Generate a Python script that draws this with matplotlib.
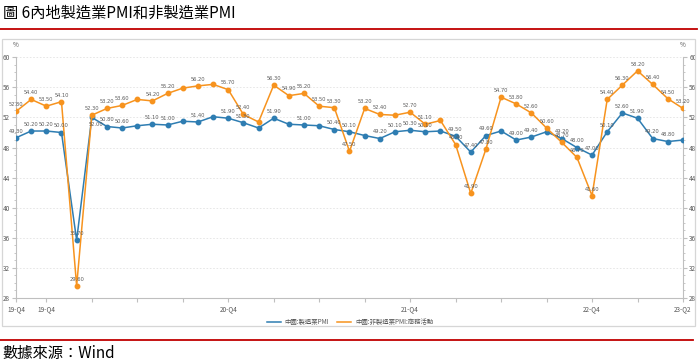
import matplotlib
matplotlib.use("Agg")
import matplotlib.pyplot as plt
from matplotlib.lines import Line2D
from matplotlib.patches import Rectangle
from matplotlib.ticker import MultipleLocator, FixedLocator

plt.rcParams['font.family'] = ['Noto Sans CJK TC', 'DejaVu Sans']

# Monthly data, 2019-10 .. 2023-06
months = ['2019-10', '2019-11', '2019-12', '2020-01', '2020-02', '2020-03', '2020-04', '2020-05',
          '2020-06', '2020-07', '2020-08', '2020-09', '2020-10', '2020-11', '2020-12',
          '2021-01', '2021-02', '2021-03', '2021-04', '2021-05', '2021-06', '2021-07', '2021-08',
          '2021-09', '2021-10', '2021-11', '2021-12', '2022-01', '2022-02', '2022-03', '2022-04',
          '2022-05', '2022-06', '2022-07', '2022-08', '2022-09', '2022-10', '2022-11', '2022-12',
          '2023-01', '2023-02', '2023-03', '2023-04', '2023-05', '2023-06']
mfg_pmi = [49.3, 50.2, 50.2, 50.0, 35.7, 52.0, 50.8, 50.6, 50.9, 51.1, 51.0, 51.5, 51.4, 52.1, 51.9,
           51.3, 50.6, 51.9, 51.1, 51.0, 50.9, 50.4, 50.1, 49.6, 49.2, 50.1, 50.3, 50.1, 50.2, 49.5,
           47.4, 49.6, 50.2, 49.0, 49.4, 50.1, 49.2, 48.0, 47.0, 50.1, 52.6, 51.9, 49.2, 48.8, 49.0]
nonmfg_pmi = [52.8, 54.4, 53.5, 54.1, 29.6, 52.3, 53.2, 53.6, 54.4, 54.2, 55.2, 55.9, 56.2, 56.4, 55.7,
              52.4, 51.4, 56.3, 54.9, 55.2, 53.5, 53.3, 47.5, 53.2, 52.4, 52.3, 52.7, 51.1, 51.6, 48.4,
              41.9, 47.8, 54.7, 53.8, 52.6, 50.6, 48.7, 46.7, 41.6, 54.4, 56.3, 58.2, 56.4, 54.5, 53.2]
# indices whose value label is shown in the reference
mfg_labelled = [0, 1, 2, 3, 4, 5, 6, 7, 9, 10, 12, 14, 15, 17, 19, 21, 22, 24, 25, 26, 27, 29, 30,
                31, 33, 34, 36, 37, 38, 39, 40, 41, 42, 43]
nonmfg_labelled = [0, 1, 2, 3, 4, 5, 6, 7, 9, 10, 12, 14, 15, 17, 18, 19, 20, 21, 22, 23, 24, 26, 27,
                   29, 30, 31, 32, 33, 34, 35, 36, 37, 38, 39, 40, 41, 42, 43, 44]
tick_positions = [0] + list(range(2, len(months), 3))
tick_label_map = {0: '19-Q4', 2: '19-Q4', 14: '20-Q4', 26: '21-Q4', 38: '22-Q4', 44: '23-Q2'}
series_names = ['中國:製造業PMI', '中國:非製造業PMI:商務活動']
title = '圖 6內地製造業PMI和非製造業PMI'
source = '數據來源：Wind'

W, H = 699, 364
fig = plt.figure(figsize=(W / 100, H / 100), dpi=100)

def fx(px):
    return px / W

def fy(py):
    return 1 - py / H

# title, red rules, source
fig.text(fx(3), fy(13), title, fontsize=11, va='center', ha='left', color='black')
fig.add_artist(Line2D([fx(0), fx(697)], [fy(28.5), fy(28.5)], color='#c00000', lw=1.3))
fig.add_artist(Line2D([fx(0), fx(693)], [fy(340), fy(340)], color='#c00000', lw=1.3))
fig.text(fx(2), fy(353), source, fontsize=11, va='center', ha='left', color='black')

# panel border
fig.add_artist(Rectangle((fx(2), fy(326)), fx(695) - fx(2), fy(39) - fy(326),
                         fill=False, edgecolor='#d6d6d6', lw=0.9))

ax = fig.add_axes([fx(16), fy(298), fx(683) - fx(16), fy(57.3) - fy(298)])
x = list(range(len(months)))
blue = '#2e7db2'
orange = '#f7931e'
ax.plot(x, mfg_pmi, color=blue, lw=1.1, marker='o', ms=3.2, zorder=3)
ax.plot(x, nonmfg_pmi, color=orange, lw=1.1, marker='o', ms=3.2, zorder=3)

lab_kw = dict(textcoords='offset points', ha='center', fontsize=3.7, color='#5a5a5a',
              family='DejaVu Sans', zorder=4)
for i in mfg_labelled:
    below = (i == 5)
    ax.annotate(f'{mfg_pmi[i]:.2f}', (x[i], mfg_pmi[i]),
                xytext=(3, -3.5) if below else (0, 3),
                va='top' if below else 'bottom', **lab_kw)
for i in nonmfg_labelled:
    ax.annotate(f'{nonmfg_pmi[i]:.2f}', (x[i], nonmfg_pmi[i]), xytext=(0, 3),
                va='bottom', **lab_kw)

ax.set_xlim(0, len(months) - 1)
ax.set_ylim(28, 60)
ax.yaxis.set_major_locator(MultipleLocator(4))
ax.yaxis.set_minor_locator(MultipleLocator(1))
ax.xaxis.set_major_locator(FixedLocator(tick_positions))
ax.set_xticklabels([tick_label_map.get(p, '') for p in tick_positions])
ax.tick_params(axis='x', which='major', length=3, color='#bfbfbf', labelsize=4.6, labelcolor='#555555', pad=2)
ax.tick_params(axis='y', which='major', length=3, color='#bfbfbf', labelsize=4.6, labelcolor='#555555',
               left=True, right=True, labelleft=True, labelright=True, pad=1.5)
ax.tick_params(axis='y', which='minor', length=1.5, color='#bfbfbf', left=True, right=True)
for s in ['left', 'right', 'bottom']:
    ax.spines[s].set_color('#bfbfbf')
    ax.spines[s].set_linewidth(0.8)
ax.spines['top'].set_visible(False)
ax.grid(axis='y', which='major', color='#e3e3e3', ls=(0, (2, 2)), lw=0.6)
ax.set_axisbelow(True)
ax.patch.set_alpha(0)

fig.text(fx(16), fy(45), '%', fontsize=4.6, color='#555555', ha='center', va='center')
fig.text(fx(683), fy(45), '%', fontsize=4.6, color='#555555', ha='center', va='center')

handles = [Line2D([], [], color=blue, lw=1.1), Line2D([], [], color=orange, lw=1.1)]
fig.legend(handles, series_names, loc='center', bbox_to_anchor=(fx(350), fy(322)), ncol=2,
           frameon=False, fontsize=4.6, handlelength=2.2, handletextpad=0.6, columnspacing=1.2,
           labelcolor='#555555')

fig.savefig('out.png', dpi=100)
